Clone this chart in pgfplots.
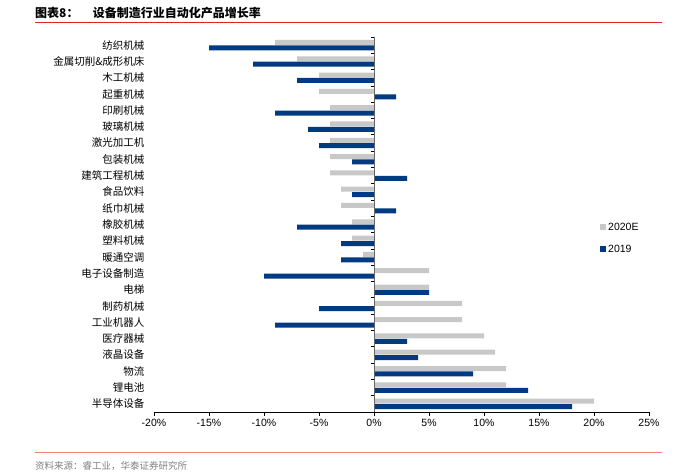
\documentclass[border=0pt]{standalone}
\usepackage{pgfplots}
\pgfplotsset{compat=1.18}
\usepackage{fontspec}
\setmainfont{Liberation Sans}
\newfontfamily\cjk{Noto Sans CJK SC}
\definecolor{grey20}{RGB}{200,200,200}
\definecolor{navy19}{RGB}{0,58,128}
\definecolor{hred}{RGB}{214,40,40}
\definecolor{lred}{RGB}{240,130,120}

% growth rates in percent, top to bottom
\pgfplotstableread{
idx v2020 v2019
0  -9  -15
1  -7  -11
2  -5  -7
3  -5   2
4  -4  -9
5  -4  -6
6  -4  -5
7  -4  -2
8  -4   3
9  -3  -2
10 -3   2
11 -2  -7
12 -2  -3
13 -1  -3
14  5  -10
15  5   5
16  8  -5
17  8  -9
18 10   3
19 11   4
20 12   9
21 12  14
22 20  18
}\growth

\begin{document}
\begin{tikzpicture}
\path (0pt,0pt) rectangle (684pt,474pt);
% title
\node[anchor=base west,inner sep=0pt] at (35pt,456pt) {\cjk\fontsize{12}{14}\selectfont\bfseries 图表8：\hspace{1.2em}设备制造行业自动化产品增长率};
\draw[hred,line width=1pt] (35pt,451pt) -- (662pt,451pt);
\begin{axis}[
  at={(154pt,62pt)}, anchor=south west,
  scale only axis, width=495pt, height=375pt,
  xbar, bar width=5pt,
  xmin=-20, xmax=25, ymin=-0.5, ymax=22.5,
  y dir=reverse,
  axis x line*=bottom, axis y line*=left,
  y axis line style={draw=none},
  xtick={-20,-15,...,25},
  xticklabel={\pgfmathprintnumber{\tick}\%},
  xticklabel style={font=\fontsize{10.5}{12}\selectfont},
  /pgf/number format/assume math mode=true,
  x axis line style={black,line width=0.8pt,-},
  xtick style={black,line width=0.8pt},
  ytick style={draw=none},
  major tick length=4pt,
  xtick align=outside,
  ytick={0,...,22},
  yticklabels={纺织机械,金属切削\&成形机床,木工机械,起重机械,印刷机械,玻璃机械,激光加工机,包装机械,建筑工程机械,食品饮料,纸巾机械,橡胶机械,塑料机械,暖通空调,电子设备制造,电梯,制药机械,工业机器人,医疗器械,液晶设备,物流,锂电池,半导体设备},
  yticklabel style={font=\cjk\fontsize{10.5}{12}\selectfont, xshift=-2pt},
  clip=false,
  legend style={at={(0.895,0.515)},anchor=north west,draw=none,fill=none,
    font=\fontsize{10.5}{12}\selectfont, row sep=9pt,
    legend cell align=left},
  legend image code/.code={\fill[#1] (0pt,-3pt) rectangle (6pt,3pt);},
]
\addplot[draw=none, fill=grey20, bar shift=2.7pt] table[x=v2020,y=idx]{\growth};
\addplot[draw=none, fill=navy19, bar shift=-2.7pt] table[x=v2019,y=idx]{\growth};
\legend{2020E,2019}
% zero line with category ticks
\draw[gray!80!black,line width=0.9pt] (axis cs:0,-0.5) -- (axis cs:0,22.5);
\pgfplotsinvokeforeach{-0.5,0.5,...,21.5}{
  \draw[black,line width=0.8pt] (axis cs:0,#1) -- ([xshift=-3pt]axis cs:0,#1);
}
\end{axis}
\draw[lred,line width=1pt] (35pt,22pt) -- (662pt,22pt);
\node[anchor=base west,inner sep=0pt,text=gray] at (35pt,5pt) {\cjk\fontsize{9.5}{11}\selectfont 资料来源：睿工业，华泰证券研究所};
\end{tikzpicture}
\end{document}
